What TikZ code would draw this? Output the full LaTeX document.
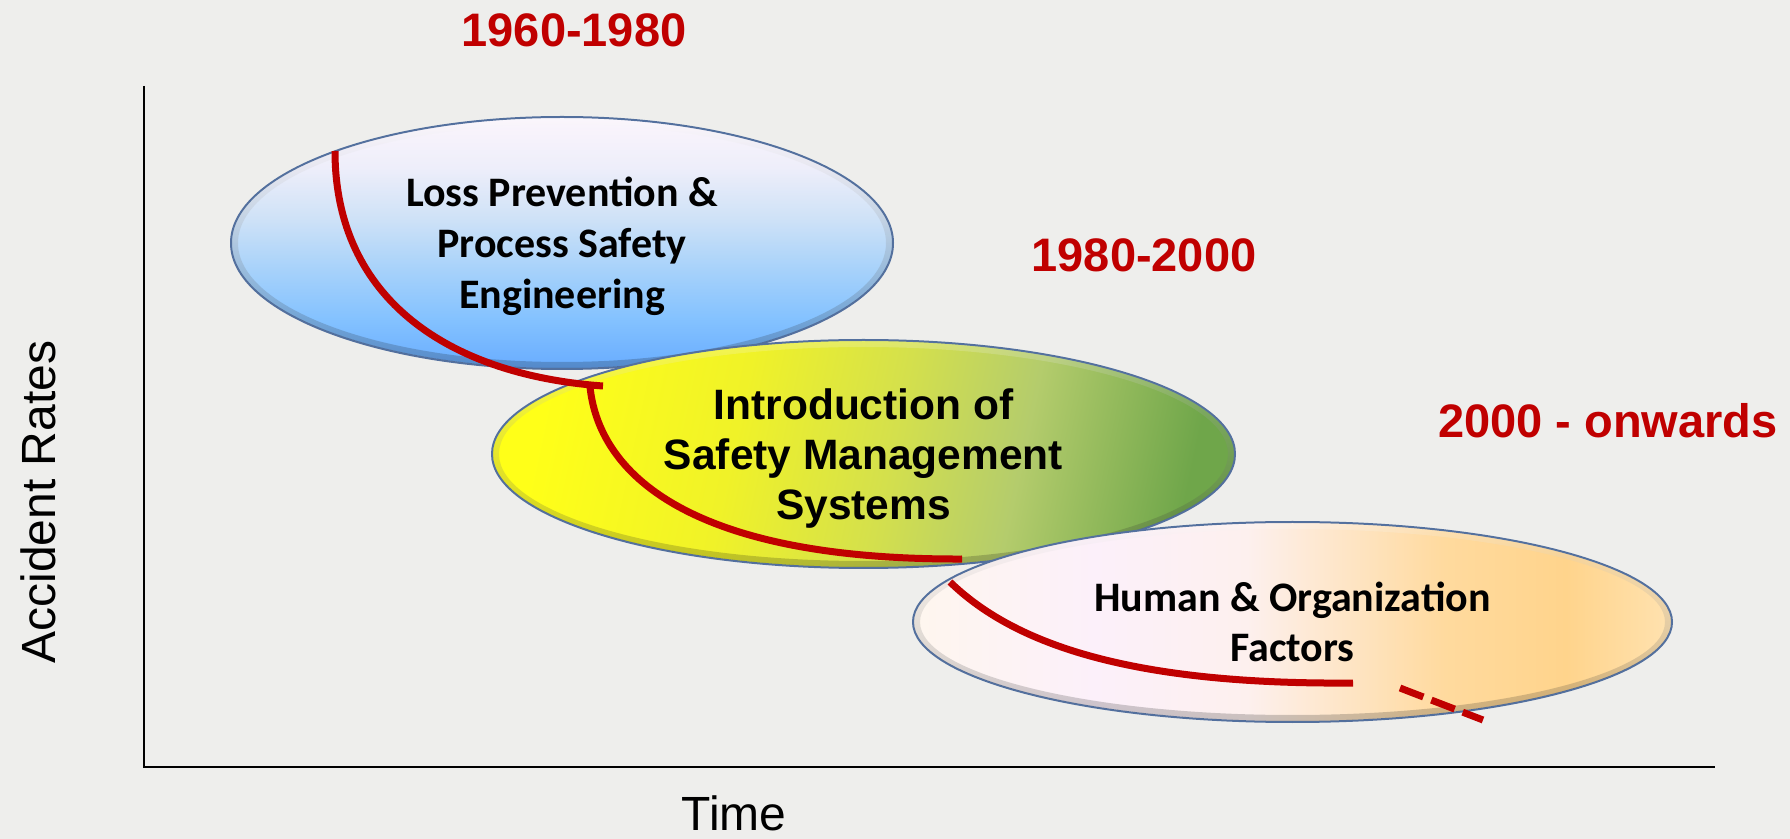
\documentclass[tikz,border=0pt]{standalone}
\usepackage{fontspec}
\setmainfont{Liberation Sans}
\newfontfamily\calibri{Carlito}
\usetikzlibrary{shapes.geometric}

\definecolor{fundo}{HTML}{EEEEEC}
\definecolor{vermelho}{HTML}{C00000}
\definecolor{borda}{HTML}{53709E}
% cores das elipses
\definecolor{azul1}{HTML}{68ACFF}
\definecolor{azul2}{HTML}{84C2FF}
\definecolor{azul3}{HTML}{A8D2FA}
\definecolor{azul4}{HTML}{CFE2F7}
\definecolor{azul5}{HTML}{EEEEFA}
\definecolor{azul6}{HTML}{FBF5FC}
\definecolor{vd1}{HTML}{FFFF18}
\definecolor{vd2}{HTML}{F0F228}
\definecolor{vd3}{HTML}{D4E04C}
\definecolor{vd4}{HTML}{B4CC6C}
\definecolor{vd5}{HTML}{6FA64A}
\definecolor{lar1}{HTML}{FEF6EE}
\definecolor{lar2}{HTML}{FCF0FA}
\definecolor{lar3}{HTML}{FDF0EE}
\definecolor{lar4}{HTML}{FFDA9E}
\definecolor{lar5}{HTML}{FFD48C}
\definecolor{lar6}{HTML}{FFE2B0}

\pgfdeclareverticalshading{azul}{100bp}{color(0bp)=(azul1); color(25bp)=(azul1);
    color(35bp)=(azul2); color(45bp)=(azul3); color(55bp)=(azul4);
    color(65bp)=(azul5); color(75bp)=(azul6); color(100bp)=(azul6)}
\pgfdeclarehorizontalshading{verde}{100bp}{color(0bp)=(vd1); color(25bp)=(vd1);
    color(40bp)=(vd2); color(52bp)=(vd3); color(62bp)=(vd4);
    color(75bp)=(vd5); color(100bp)=(vd5)}
\pgfdeclarehorizontalshading{laranja}{100bp}{color(0bp)=(lar1); color(25bp)=(lar1);
    color(37bp)=(lar2); color(47bp)=(lar3); color(60bp)=(lar4);
    color(68bp)=(lar5); color(75bp)=(lar6); color(100bp)=(lar6)}

\tikzset{
elipse/.style = {ellipse, draw=borda, line width=1pt, inner sep=0pt,
    align=center, text depth=0pt}
        }
\tikzset{
anel/.style = {even odd rule, top color=white, bottom color=black, opacity=0.2}
        }
\tikzset{
ano/.style = {text=vermelho, font=\bfseries\fontsize{23.5}{28}\selectfont, anchor=base},
eixo/.style = {font=\fontsize{24}{28}\selectfont, anchor=base, inner sep=0pt},
curva/.style = {vermelho, line width=3.5pt}
        }

\begin{document}
\begin{tikzpicture}[x=0.5pt,y=-0.5pt]
        \useasboundingbox (0,0) rectangle (1790,839);
        \fill[fundo] (0,0) rectangle (1790,839);

        % eixos
        \coordinate (topo) at (144,86);
        \coordinate (origem) at (144,767);
        \coordinate (fim) at (1715,767);
        \draw[line width=1.2pt] (topo) -- (origem) -- (fim);
        \node[eixo, rotate=90] (taxa) at (55,502) {Accident Rates};
        \node[eixo] (tempo) at (734,830) {Time};

        % elipses
        \node[elipse, shading=azul, minimum width=331pt, minimum height=126pt,
            font=\calibri\bfseries\fontsize{21}{25.5}\selectfont] (lps) at (562,243)
            {Loss Prevention \&\\Process Safety\\Engineering};
        \shade[anel] (lps.center) ellipse [x radius=330, y radius=125]
            (lps.center) ellipse [x radius=324, y radius=119];

        \node[elipse, shading=verde, shading angle=-12, minimum width=371.5pt, minimum height=114pt,
            font=\bfseries\fontsize{21.25}{25}\selectfont] (sms) at (863.5,454)
            {Introduction of\\Safety Management\\Systems};
        \shade[anel] (sms.center) ellipse [x radius=370.5, y radius=113]
            (sms.center) ellipse [x radius=364.5, y radius=107];

        \node[elipse, shading=laranja, minimum width=379.5pt, minimum height=100pt,
            font=\calibri\bfseries\fontsize{21}{25}\selectfont] (hof) at (1292.5,622)
            {Human \& Organization\\Factors};
        \shade[anel] (hof.center) ellipse [x radius=378.5, y radius=99]
            (hof.center) ellipse [x radius=372.5, y radius=93];

        % curvas
        \draw[curva] (335,151) .. controls (335,300) and (450,375) .. (603,386);
        \draw[curva] (590,387) .. controls (600,480) and (700,560) .. (962,559);
        \draw[curva] (950,582) .. controls (1010,640) and (1120,685) .. (1353,683);
        \draw[curva, dash pattern=on 12.5pt off 4.3pt] (1400,688) -- (1483,720);

        % periodos
        \node[ano] (p1) at (574,47) {1960-1980};
        \node[ano] (p2) at (1144,272) {1980-2000};
        \node[ano] (p3) at (1608,438) {2000 - onwards};
\end{tikzpicture}
\end{document}
